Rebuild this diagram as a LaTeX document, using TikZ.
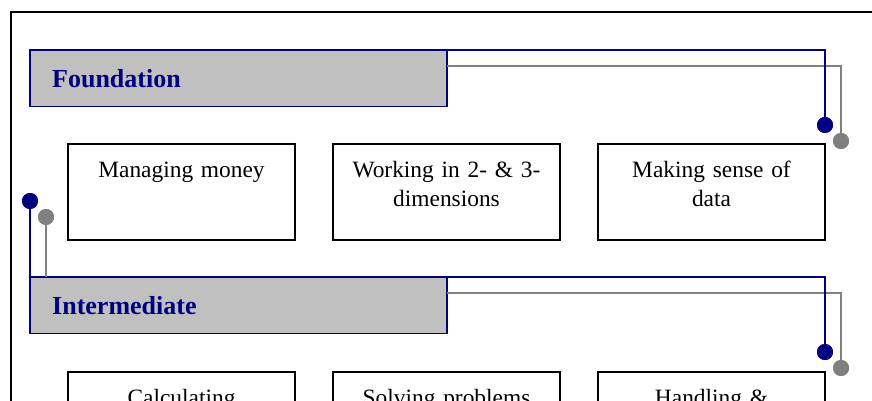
\documentclass[tikz,border=0pt]{standalone}
\usepackage{fontspec}
\setmainfont{Liberation Serif}
\definecolor{navyc}{HTML}{000080}
\definecolor{grayc}{HTML}{808080}
\definecolor{barfill}{HTML}{C0C0C0}
\tikzset{
  levelbar/.style={draw=navyc, fill=barfill, line width=1.8pt, anchor=north west,
    minimum width=417pt, minimum height=56.5pt, inner sep=0pt, outer sep=0pt},
  bartext/.style={text=navyc, font=\fontsize{26}{30}\selectfont\bfseries, anchor=west, inner sep=0pt},
  topicbox/.style={draw=black, line width=1.8pt, anchor=north west,
    minimum width=227pt, minimum height=96pt, inner sep=0pt, outer sep=0pt},
  topictext/.style={font=\fontsize{23.4}{29}\selectfont, text width=225pt, align=center,
    anchor=base, inner sep=0pt},
  navyline/.style={draw=navyc, line width=1.3pt},
  grayline/.style={draw=grayc, line width=1.3pt},
  navydot/.style={circle, fill=navyc, minimum size=16pt, inner sep=0pt},
  graydot/.style={circle, fill=grayc, minimum size=16pt, inner sep=0pt},
}
\begin{document}
\begin{tikzpicture}[x=1pt,y=-1pt]
\useasboundingbox (0,0) rectangle (872,401);
\clip (0,0) rectangle (872,401);
\fill[white] (0,0) rectangle (872,401);
\draw[line width=1.8pt] (11,12) rectangle (900,430);

% Foundation
\node[levelbar] (found) at (30,50) {};
\node[bartext] (foundlbl) at ([xshift=22pt]found.west) {Foundation};
\node[navydot] (fdotn) at (825,125) {};
\node[graydot] (fdotg) at (841,141) {};
\draw[grayline] ([yshift=-16pt]found.north east) -| (fdotg.center);
\draw[navyline] (found.north east) -| (fdotn.center);
\node[navydot] at (fdotn) {};
\node[graydot] at (fdotg) {};

% Row 1 boxes
\node[topicbox] (b1) at (68,144) {};
\node[topicbox] (b2) at (333,144) {};
\node[topicbox] (b3) at (598,144) {};
\node[topictext] (t1) at ([yshift=-33pt]b1.north) {Managing money};
\node[topictext] (t2) at ([yshift=-33pt]b2.north) {Working in 2- \& 3-\\dimensions};
\node[topictext] (t3) at ([yshift=-33pt]b3.north) {Making sense of\\data};

% Intermediate
\node[levelbar] (inter) at (30,277) {};
\node[bartext] (interlbl) at ([xshift=22pt]inter.west) {Intermediate};
\node[navydot] (ldotn) at (30,201) {};
\node[graydot] (ldotg) at (46,217) {};
\draw[grayline] (ldotg.center) -- (ldotg.center |- inter.north);
\draw[navyline] (ldotn.center) -- (inter.north west);
\node[navydot] at (ldotn) {};
\node[graydot] at (ldotg) {};
\node[navydot] (idotn) at (825,352) {};
\node[graydot] (idotg) at (841,368) {};
\draw[grayline] ([yshift=-16pt]inter.north east) -| (idotg.center);
\draw[navyline] (inter.north east) -| (idotn.center);
\node[navydot] at (idotn) {};
\node[graydot] at (idotg) {};

% Row 2 boxes
\node[topicbox] (c1) at (68,372) {};
\node[topicbox] (c2) at (333,372) {};
\node[topicbox] (c3) at (598,372) {};
\node[topictext] (u1) at ([yshift=-33pt]c1.north) {Calculating};
\node[topictext] (u2) at ([yshift=-33pt]c2.north) {Solving problems};
\node[topictext] (u3) at ([yshift=-33pt]c3.north) {Handling \&};
\end{tikzpicture}
\end{document}
